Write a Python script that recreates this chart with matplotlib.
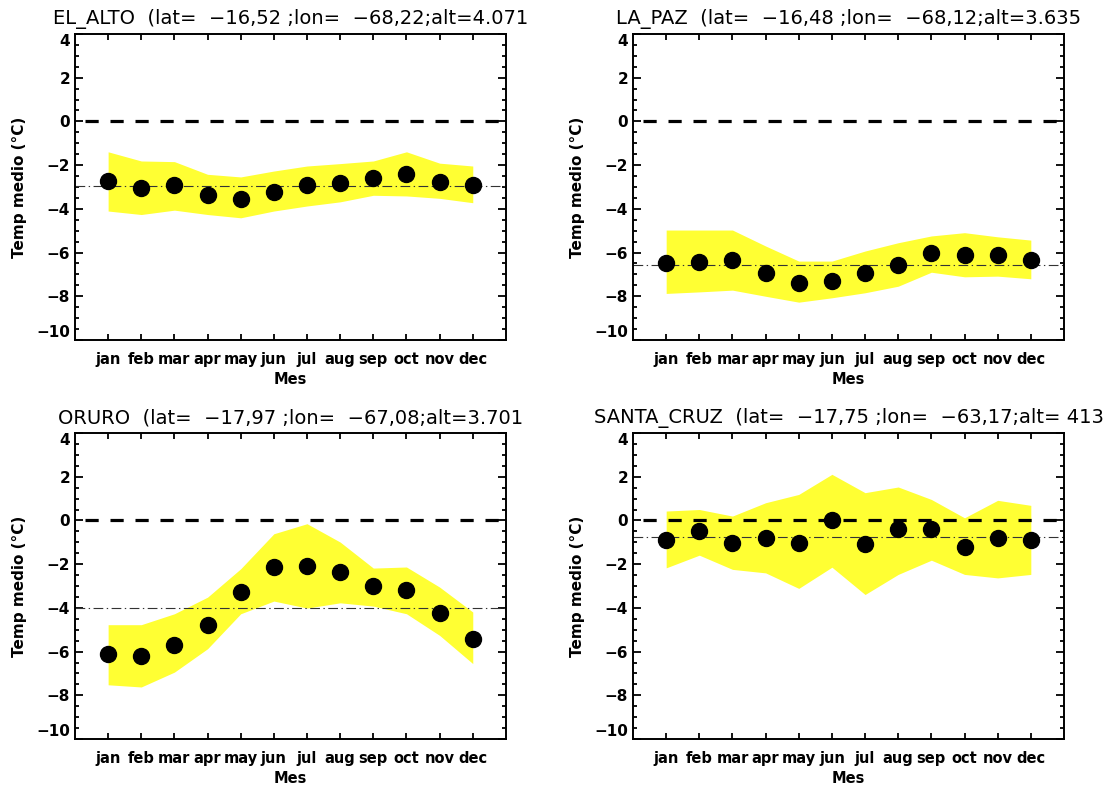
import matplotlib
matplotlib.use('Agg')
import matplotlib.pyplot as plt
from matplotlib.ticker import MultipleLocator

# months on the x axis
months = ['jan', 'feb', 'mar', 'apr', 'may', 'jun',
          'jul', 'aug', 'sep', 'oct', 'nov', 'dec']

# station titles
titles = [
    'EL_ALTO  (lat=  \u221216,52 ;lon=  \u221268,22;alt=4.071',
    'LA_PAZ  (lat=  \u221216,48 ;lon=  \u221268,12;alt=3.635',
    'ORURO  (lat=  \u221217,97 ;lon=  \u221267,08;alt=3.701',
    'SANTA_CRUZ  (lat=  \u221217,75 ;lon=  \u221263,17;alt= 413',
]

# monthly mean temperature (points)
el_alto_mean = [-2.73, -3.03, -2.91, -3.37, -3.54, -3.23, -2.91, -2.80, -2.57, -2.39, -2.76, -2.91]
la_paz_mean = [-6.47, -6.42, -6.36, -6.93, -7.39, -7.28, -6.93, -6.59, -6.04, -6.09, -6.13, -6.32]
oruro_mean = [-6.13, -6.22, -5.69, -4.77, -3.28, -2.13, -2.09, -2.36, -3.00, -3.20, -4.22, -5.44]
santa_cruz_mean = [-0.90, -0.49, -1.05, -0.82, -1.02, 0.00, -1.07, -0.38, -0.38, -1.22, -0.82, -0.90]

# upper / lower limits of the yellow band
el_alto_hi = [-1.39, -1.81, -1.84, -2.42, -2.54, -2.27, -2.04, -1.93, -1.81, -1.39, -1.91, -2.04]
el_alto_lo = [-4.10, -4.26, -4.06, -4.26, -4.41, -4.10, -3.87, -3.68, -3.38, -3.41, -3.52, -3.72]
la_paz_hi = [-4.97, -4.97, -4.97, -5.70, -6.39, -6.39, -5.93, -5.55, -5.24, -5.09, -5.28, -5.43]
la_paz_lo = [-7.87, -7.80, -7.72, -8.00, -8.27, -8.07, -7.84, -7.54, -6.90, -7.11, -7.08, -7.20]
oruro_hi = [-4.77, -4.77, -4.27, -3.51, -2.21, -0.61, -0.15, -0.99, -2.18, -2.13, -3.05, -4.19]
oruro_lo = [-7.52, -7.62, -6.94, -5.87, -4.27, -3.69, -4.01, -3.77, -3.92, -4.27, -5.26, -6.55]
santa_cruz_hi = [0.43, 0.50, 0.20, 0.81, 1.19, 2.11, 1.27, 1.53, 0.96, 0.12, 0.92, 0.69]
santa_cruz_lo = [-2.17, -1.59, -2.24, -2.40, -3.11, -2.14, -3.39, -2.47, -1.82, -2.47, -2.63, -2.47]

# annual mean (dash-dot line)
annual_mean = [-2.96, -6.58, -4.01, -0.75]

means = [el_alto_mean, la_paz_mean, oruro_mean, santa_cruz_mean]
highs = [el_alto_hi, la_paz_hi, oruro_hi, santa_cruz_hi]
lows = [el_alto_lo, la_paz_lo, oruro_lo, santa_cruz_lo]

plt.rcParams['font.family'] = 'DejaVu Sans'
plt.rcParams['lines.scale_dashes'] = False

fig = plt.figure(figsize=(11.09, 7.85), dpi=100)

# axes boxes in figure fractions
lefts = [0.0676, 0.5708, 0.0676, 0.5708]
bottoms = [0.5669, 0.5669, 0.0586, 0.0586]
width, height = 0.3886, 0.3898

x = list(range(1, 13))
yticks = list(range(-10, 5, 2))

for i in range(4):
    ax = fig.add_axes([lefts[i], bottoms[i], width, height])

    # yellow band
    ax.fill_between(x, lows[i], highs[i], color='#ffff33', linewidth=0, zorder=1)

    # zero line and annual mean line
    ax.plot([0.3, 12.8], [0, 0], color='black', linewidth=2.3,
            linestyle=(0, (9.5, 8.5)), zorder=2)
    ax.axhline(annual_mean[i], color='#333333', linewidth=0.8,
               linestyle=(0, (7, 2.5, 1, 2.5)), zorder=2)

    # monthly points
    ax.plot(x, means[i], 'o', color='black', markersize=11.5, zorder=3)

    ax.set_xlim(0, 13)
    ax.set_ylim(-10, 4)
    ax.set_xticks(x)
    ax.set_xticklabels(months, fontsize=10.5, fontweight='bold')
    ax.set_yticks(yticks)
    ylabels = ax.set_yticklabels([str(v).replace('-', '\u2212') for v in yticks],
                                 fontsize=11, fontweight='bold')
    ylabels[0].set_verticalalignment('bottom')
    ylabels[-1].set_verticalalignment('top')
    ax.yaxis.set_minor_locator(MultipleLocator(0.5))

    ax.tick_params(axis='x', which='major', direction='in', length=4, width=1.3,
                   top=True, bottom=True, pad=9)
    ax.tick_params(axis='y', which='major', direction='in', length=6, width=1.3,
                   left=True, right=True, pad=3.5)
    ax.tick_params(axis='y', which='minor', direction='in', length=3, width=1.3,
                   left=True, right=True)
    for s in ax.spines.values():
        s.set_linewidth(1.4)

    ax.set_xlabel('Mes', fontsize=10.5, fontweight='bold', labelpad=3)
    ax.set_ylabel('Temp medio (\u00b0C)', fontsize=11, fontweight='bold', labelpad=7)
    ax.set_title(titles[i], fontsize=14, pad=7)

plt.savefig('out.png', dpi=100)
plt.close()
